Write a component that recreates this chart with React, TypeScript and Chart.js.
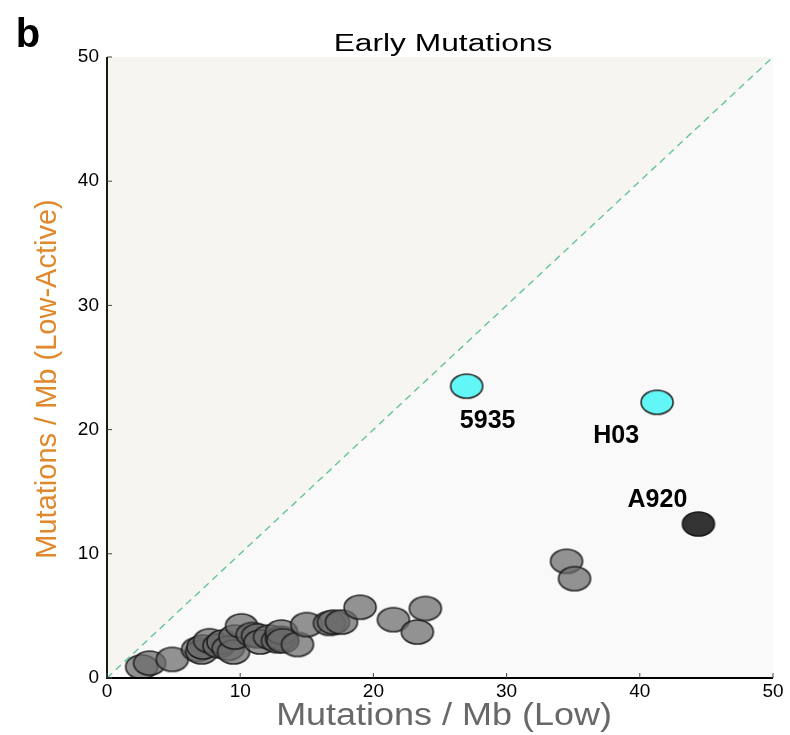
import React, { useEffect, useRef } from "react";
import { Chart, registerables } from "chart.js";

Chart.register(...registerables);

const grayX = [2.6, 3.2, 4.9, 6.8, 7.1, 7.2, 7.7, 8.4, 8.7, 9.1, 9.5, 9.6, 10.1, 10.9, 11.3, 11.5, 12.2, 12.8, 13.1, 13.1, 13.2, 14.3, 15.0, 16.7, 17.0, 17.6, 19.0, 21.5, 23.3, 23.9, 34.5, 35.1];
const grayY = [0.9, 1.2, 1.5, 2.3, 2.1, 2.5, 3.0, 2.6, 2.9, 2.4, 2.1, 3.3, 4.2, 3.5, 3.4, 2.9, 3.3, 3.0, 3.2, 3.7, 3.0, 2.7, 4.3, 4.4, 4.5, 4.5, 5.7, 4.7, 3.7, 5.6, 9.4, 8.0];
const cyanX = [27.0, 41.3];
const cyanY = [23.5, 22.2];
const cyanLabels = ["5935", "H03"];
const darkX = [44.4];
const darkY = [12.4];
const darkLabels = ["A920"];
const tickValues = [0, 10, 20, 30, 40, 50];

const FONT = "'Liberation Sans', Arial, Helvetica, sans-serif";

function ellipseImage(fill: string, stroke: string): HTMLCanvasElement {
  const c = document.createElement("canvas");
  c.width = 36;
  c.height = 28;
  const g = c.getContext("2d")!;
  g.beginPath();
  g.ellipse(18, 14, 16, 12, 0, 0, Math.PI * 2);
  g.fillStyle = fill;
  g.fill();
  g.lineWidth = 1.6;
  g.strokeStyle = stroke;
  g.stroke();
  return c;
}

function stretchedText(ctx: CanvasRenderingContext2D, text: string, x: number, y: number, sx: number) {
  ctx.save();
  ctx.translate(x, y);
  ctx.scale(sx, 1);
  ctx.fillText(text, 0, 0);
  ctx.restore();
}

const decorPlugin = {
  id: "decor",
  beforeDatasetsDraw(chart: any) {
    const { ctx, chartArea, scales } = chart;
    const xs = scales.x, ys = scales.y;
    ctx.save();
    ctx.fillStyle = "#f9f9f9";
    ctx.fillRect(chartArea.left, chartArea.top, chartArea.right - chartArea.left, chartArea.bottom - chartArea.top);
    ctx.beginPath();
    ctx.moveTo(xs.getPixelForValue(0), ys.getPixelForValue(0));
    ctx.lineTo(xs.getPixelForValue(0), ys.getPixelForValue(50));
    ctx.lineTo(xs.getPixelForValue(50), ys.getPixelForValue(50));
    ctx.closePath();
    ctx.fillStyle = "#f6f5ef";
    ctx.fill();
    ctx.restore();
  },
  afterDatasetsDraw(chart: any) {
    const { ctx, chartArea, scales } = chart;
    const xs = scales.x, ys = scales.y;
    ctx.save();
    ctx.strokeStyle = "#000";
    ctx.lineWidth = 1.8;
    ctx.beginPath();
    ctx.moveTo(chartArea.left, chartArea.top);
    ctx.lineTo(chartArea.left, chartArea.bottom);
    ctx.lineTo(chartArea.right, chartArea.bottom);
    ctx.stroke();
    ctx.lineWidth = 1;
    ctx.strokeStyle = "#444";
    ctx.beginPath();
    tickValues.forEach((v) => {
      const px = xs.getPixelForValue(v);
      ctx.moveTo(px, chartArea.bottom);
      ctx.lineTo(px, chartArea.bottom - 5);
      const py = ys.getPixelForValue(v);
      ctx.moveTo(chartArea.left, py);
      ctx.lineTo(chartArea.left + 5, py);
    });
    ctx.stroke();
    // point labels
    ctx.fillStyle = "#000";
    ctx.font = `bold 25px ${FONT}`;
    ctx.textAlign = "center";
    ctx.textBaseline = "middle";
    const labelOffsets = [[21, 35], [-41, 34]];
    cyanLabels.forEach((t, i) => {
      const px = xs.getPixelForValue(cyanX[i]);
      const py = ys.getPixelForValue(cyanY[i]);
      ctx.fillText(t, px + labelOffsets[i][0], py + labelOffsets[i][1]);
    });
    darkLabels.forEach((t, i) => {
      const px = xs.getPixelForValue(darkX[i]);
      const py = ys.getPixelForValue(darkY[i]);
      ctx.fillText(t, px - 41, py - 24);
    });
    // title
    ctx.font = `23px ${FONT}`;
    stretchedText(ctx, "Early Mutations", 443, 45, 1.38);
    // panel letter
    ctx.font = `bold 40px ${FONT}`;
    ctx.fillText("b", 28, 36);
    // x title
    ctx.font = `31px ${FONT}`;
    ctx.fillStyle = "#686868";
    stretchedText(ctx, "Mutations / Mb (Low)", 444, 716, 1.16);
    // y title
    ctx.translate(48, 379);
    ctx.rotate(-Math.PI / 2);
    ctx.fillStyle = "#e0882c";
    ctx.font = `29px ${FONT}`;
    ctx.fillText("Mutations / Mb (Low-Active)", 0, 0);
    ctx.restore();
  },
};

export default function App() {
  const ref = useRef<HTMLCanvasElement | null>(null);
  useEffect(() => {
    document.body.style.margin = "0";
    const grayImg = ellipseImage("rgba(105,105,105,0.72)", "rgba(25,25,25,0.9)");
    const cyanImg = ellipseImage("#62f6f6", "#2a2a2a");
    const darkImg = ellipseImage("#333333", "#1a1a1a");
    const chart = new Chart(ref.current!, {
      type: "scatter",
      data: {
        datasets: [
          {
            type: "line",
            data: [{ x: 0, y: 0 }, { x: 50, y: 50 }],
            borderColor: "#63c49d",
            borderWidth: 1.4,
            borderDash: [7, 5],
            pointRadius: 0,
            fill: false,
          } as any,
          {
            data: grayX.map((x, i) => ({ x, y: grayY[i] })),
            pointStyle: grayImg,
          },
          {
            data: cyanX.map((x, i) => ({ x, y: cyanY[i] })),
            pointStyle: cyanImg,
          },
          {
            data: darkX.map((x, i) => ({ x, y: darkY[i] })),
            pointStyle: darkImg,
          },
        ],
      },
      options: {
        animation: false,
        responsive: false,
        layout: { padding: { top: 57, right: 17, left: 0, bottom: 0 } },
        plugins: { legend: { display: false }, tooltip: { enabled: false } },
        scales: {
          x: {
            type: "linear",
            min: 0,
            max: 50,
            afterFit: (s: any) => { s.height = 57; },
            afterBuildTicks: (s: any) => { s.ticks = tickValues.map((v) => ({ value: v })); },
            grid: { display: false, drawTicks: false },
            border: { display: false },
            ticks: { color: "#000", font: { family: FONT, size: 19 }, padding: 2 },
          },
          y: {
            type: "linear",
            min: 0,
            max: 50,
            afterFit: (s: any) => { s.width = 107; },
            afterBuildTicks: (s: any) => { s.ticks = tickValues.map((v) => ({ value: v })); },
            grid: { display: false, drawTicks: false },
            border: { display: false },
            ticks: { color: "#000", font: { family: FONT, size: 19 }, padding: 8 },
          },
        },
      },
      plugins: [decorPlugin],
    });
    return () => chart.destroy();
  }, []);
  return <canvas ref={ref} width={790} height={735} style={{ display: "block" }} />;
}
